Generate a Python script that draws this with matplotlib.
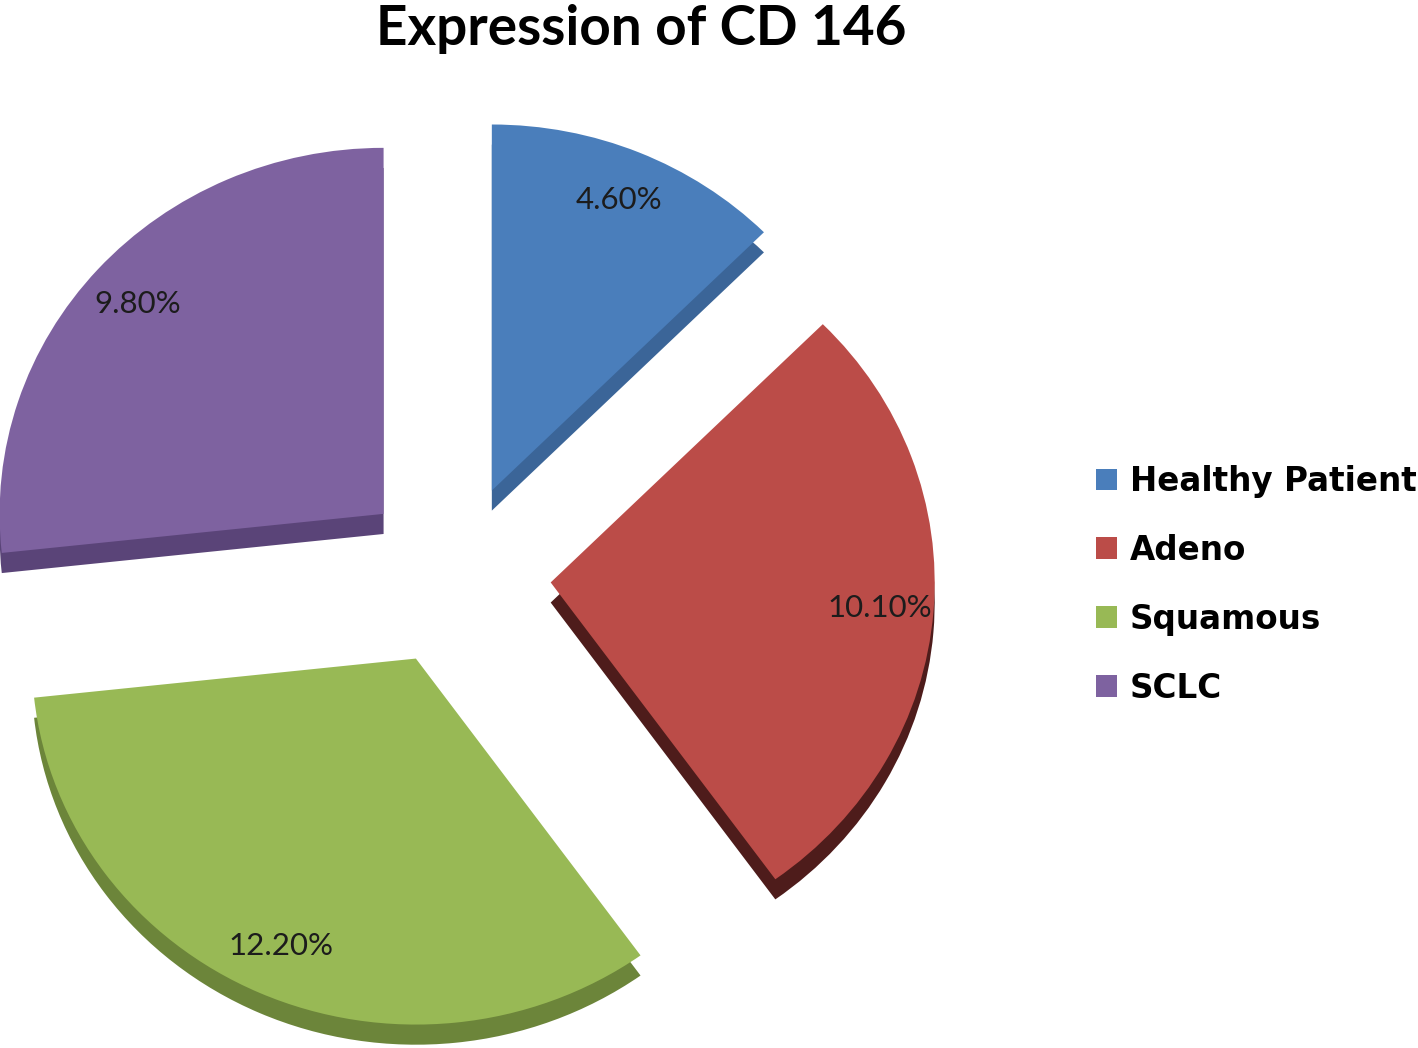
import matplotlib
matplotlib.use("Agg")
import matplotlib.pyplot as plt

# data
categories = ["Healthy Patient", "Adeno", "Squamous", "SCLC"]
values = [4.60, 10.10, 12.20, 9.80]
colors = ["#4a7ebb", "#bb4c48", "#98b955", "#7e62a0"]
side_colors = ["#3b6598", "#4e1c1b", "#6c853a", "#5a4478"]

total = sum(values)

fig = plt.figure(figsize=(14.18, 10.48), dpi=100)
ax = fig.add_axes([0, 0, 1, 1])

# x: 384 px per unit, y: 366 px per unit (slight tilt); centre at (455, 575) px
sx, sy = 384.0, 366.0
cx, cy = 455, 575

explode = [0.25] * len(values)
depth = 0.055

# side of the slices (darker copy shifted down)
ax.pie(values, colors=side_colors, explode=explode, startangle=90,
       counterclock=False, center=(0, -depth), radius=1.0,
       wedgeprops=dict(linewidth=0), frame=True)

wedges, texts, autotexts = ax.pie(
    values, colors=colors, explode=explode, startangle=90,
    counterclock=False, center=(0, 0), radius=1.0,
    autopct=lambda p: f"{p * total / 100:.2f}%", pctdistance=0.86,
    wedgeprops=dict(linewidth=0), frame=True,
    textprops=dict(fontsize=22.5, color="#1c1c1c", family="Lato"))

ax.set_xlim(-cx / sx, (1418 - cx) / sx)
ax.set_ylim(-(1048 - cy) / sy, cy / sy)
ax.set_aspect("auto")
ax.axis("off")

fig.text(0.452, 0.972, "Expression of CD 146", ha="center", va="center",
         fontsize=39.5, fontweight="bold", family="Lato")

leg = fig.legend(wedges, categories, loc="center left",
                 bbox_to_anchor=(0.752, 0.442), frameon=False,
                 prop=dict(family="DejaVu Sans", weight="bold", size=23.5),
                 handlelength=0.65, handleheight=0.65, handletextpad=0.4,
                 labelspacing=1.1)

fig.savefig("out.png", dpi=100, facecolor="white")
